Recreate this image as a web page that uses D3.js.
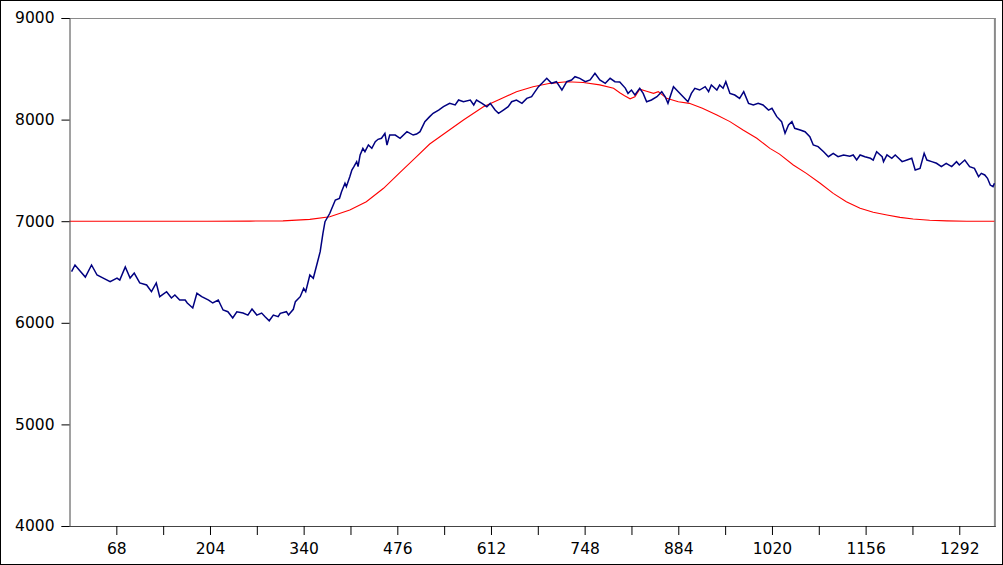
<!DOCTYPE html>
<html><head><meta charset="utf-8">
<script src="https://cdn.jsdelivr.net/npm/d3@7"></script>
<style>html,body{margin:0;padding:0;background:#fff}svg{display:block}</style>
</head><body>
<svg id="c" width="1003" height="565"></svg>
<script>
// Sample index (x) and measured value (y) for the navy series
const measured = [
[3,6503],[8,6569],[15,6513],[23,6450],[32,6569],[40,6470],[49,6440],[59,6404],[69,6440],[73,6420],
[81,6550],[88,6440],[94,6490],[102,6392],[112,6372],[119,6306],[126,6392],[131,6257],[141,6306],[148,6244],
[153,6274],[160,6224],[168,6224],[171,6195],[179,6146],[185,6290],[192,6257],[202,6224],[208,6195],[216,6224],
[223,6126],[230,6109],[237,6047],[243,6109],[252,6096],[259,6076],[265,6136],[272,6076],[279,6096],[284,6060],
[290,6020],[296,6076],[303,6060],[306,6093],[315,6109],[318,6076],[325,6133],[328,6208],[335,6257],[340,6339],
[343,6306],[349,6470],[354,6438],[359,6569],[364,6700],[368,6881],[371,6995],[378,7078],[381,7127],[386,7209],
[392,7225],[395,7290],[400,7373],[402,7340],[407,7438],[410,7504],[413,7537],[417,7586],[419,7537],[422,7652],
[426,7717],[429,7684],[434,7750],[439,7717],[444,7782],[448,7806],[453,7816],[458,7865],[461,7750],[465,7848],
[473,7848],[480,7816],[490,7881],[499,7848],[504,7858],[509,7881],[516,7980],[523,8029],[528,8062],[536,8094],
[543,8127],[552,8160],[560,8144],[565,8193],[572,8176],[582,8193],[587,8144],[591,8193],[599,8160],[606,8127],
[611,8160],[618,8094],[623,8062],[630,8094],[637,8127],[642,8176],[649,8193],[657,8160],[664,8209],[671,8225],
[676,8275],[681,8324],[686,8357],[693,8406],[700,8357],[707,8373],[715,8291],[722,8373],[729,8390],[734,8422],
[741,8406],[749,8373],[756,8390],[763,8455],[770,8390],[778,8357],[785,8406],[792,8373],[799,8370],[807,8310],
[811,8258],[816,8291],[821,8242],[828,8308],[833,8258],[838,8176],[845,8193],[853,8225],[860,8275],[865,8225],
[869,8160],[877,8324],[884,8275],[891,8225],[898,8176],[903,8258],[908,8308],[915,8291],[923,8324],[928,8275],
[932,8340],[940,8291],[944,8340],[949,8308],[953,8373],[959,8258],[966,8242],[973,8209],[979,8275],[986,8160],
[993,8144],[1000,8160],[1007,8144],[1015,8094],[1020,8111],[1027,8029],[1034,7980],[1039,7865],[1044,7947],[1049,7980],
[1053,7914],[1061,7898],[1068,7881],[1075,7832],[1080,7750],[1087,7734],[1095,7684],[1102,7635],[1109,7668],[1116,7635],
[1124,7652],[1133,7640],[1138,7652],[1143,7602],[1148,7652],[1155,7635],[1163,7619],[1167,7602],[1172,7684],[1180,7635],
[1182,7586],[1187,7652],[1194,7619],[1199,7652],[1204,7619],[1209,7586],[1216,7602],[1223,7619],[1228,7504],[1235,7520],
[1241,7668],[1245,7602],[1252,7586],[1259,7570],[1266,7537],[1273,7570],[1281,7537],[1288,7586],[1292,7553],[1300,7602],
[1307,7537],[1314,7520],[1320,7438],[1324,7471],[1329,7455],[1333,7422],[1337,7356],[1341,7340],[1343,7373]
];
// Sample index (x) and model value (y) for the red series
const model = [
[0,7000],[200,7000],[262,7001],[310,7003],[349,7018],[378,7044],[407,7110],[431,7192],[456,7324],[480,7480],
[504,7635],[523,7760],[548,7880],[572,7996],[601,8127],[625,8200],[649,8275],[673,8324],[698,8357],[722,8373],
[746,8365],[770,8342],[790,8308],[799,8265],[806,8235],[814,8205],[821,8225],[828,8300],[838,8280],[848,8258],
[855,8275],[867,8209],[884,8176],[900,8160],[919,8111],[940,8045],[959,7980],[978,7898],[998,7816],[1017,7717],
[1031,7660],[1051,7553],[1070,7471],[1090,7373],[1109,7274],[1128,7192],[1148,7127],[1167,7088],[1187,7061],[1206,7038],
[1225,7022],[1249,7009],[1274,7003],[1303,7000],[1343,7000]
];
const xDomain = [0, 1343];
const yTicks = [4000, 5000, 6000, 7000, 8000, 9000];
const xLabelTicks = [68, 204, 340, 476, 612, 748, 884, 1020, 1156, 1292];
const xMinorTicks = [136, 272, 408, 544, 680, 816, 952, 1088, 1224];

const svg = d3.select("#c");
const L = 69.5, R = 994.4, T = 18, B = 526;
const x = d3.scaleLinear().domain(xDomain).range([L, R]);
const y = d3.scaleLinear().domain([4000, 9000]).range([B, T]);
const font = "'DejaVu Sans', sans-serif";

// outer frame
svg.append("rect").attr("x",0.5).attr("y",0.5).attr("width",1002).attr("height",564)
  .attr("fill","#fff").attr("stroke","#000").attr("stroke-width",1);

// top and right plot border
svg.append("line").attr("x1",L).attr("x2",R+1).attr("y1",T+0.5).attr("y2",T+0.5)
  .attr("stroke","#8a8a8a").attr("stroke-width",1.2);
svg.append("line").attr("x1",R+0.5).attr("x2",R+0.5).attr("y1",T).attr("y2",B)
  .attr("stroke","#8a8a8a").attr("stroke-width",2);

// lines
const line = d3.line().x(d => x(d[0])).y(d => y(d[1]));
svg.append("path").datum(model).attr("d", line).attr("fill","none")
  .attr("stroke","#ff0000").attr("stroke-width",1.1);
svg.append("path").datum(measured).attr("d", line).attr("fill","none")
  .attr("stroke","#000080").attr("stroke-width",1.5).attr("stroke-linejoin","miter");

// y axis
const yAxis = d3.axisLeft(y).tickValues(yTicks).tickSize(8).tickPadding(7).tickFormat(d3.format("d"));
const gy = svg.append("g").attr("transform",`translate(${L},0)`).call(yAxis);
gy.select(".domain").attr("stroke","#444");
gy.selectAll(".tick line").attr("stroke","#000");
gy.selectAll("text").attr("font-family",font).attr("font-size","15.5px").attr("fill","#000");

// x axis (major labelled + minor)
const xAxis = d3.axisBottom(x).tickValues(xLabelTicks.concat(xMinorTicks).sort((a,b)=>a-b))
  .tickSize(9).tickPadding(8)
  .tickFormat(d => xLabelTicks.includes(d) ? d : "");
const gx = svg.append("g").attr("transform",`translate(0,${B})`).call(xAxis);
gx.select(".domain").attr("stroke","#444").attr("d", `M${L},0.5H${R+1.5}`);
gx.selectAll(".tick line").attr("stroke","#000");
gx.selectAll("text").attr("font-family",font).attr("font-size","15.5px").attr("fill","#000");
</script>
</body></html>
